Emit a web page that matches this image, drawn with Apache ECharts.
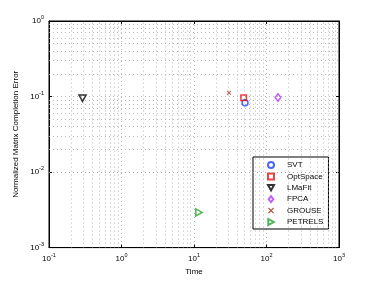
<!DOCTYPE html>
<html><head><meta charset="utf-8">
<script src="https://cdn.jsdelivr.net/npm/echarts@6/dist/echarts.min.js"></script>
<style>html,body{margin:0;padding:0;background:#fff}#c{width:374px;height:281px}</style>
</head><body><div id="c"></div>
<script>
const methods = ['SVT', 'OptSpace', 'LMaFit', 'FPCA', 'GROUSE', 'PETRELS'];
const times = [50.5, 48.4, 0.29, 144, 30.4, 11.7];
const errors = [0.0826, 0.096, 0.095, 0.097, 0.112, 0.00292];
const xDecades = [0.1, 1, 10, 100];
const yDecades = [0.001, 0.01, 0.1];
const minorFactors = [2, 3, 4, 5, 6, 7, 8, 9];

const colors = ['#1f3fff', '#ee1111', '#000000', '#b13cf5', '#a32a1a', '#22a32a'];
const symbols = [
  'circle', 'rect', 'path://M0,0L10,0L5,9Z', 'path://M5,0L10,6.5L5,13L0,6.5Z',
  'path://M0,1.5L1.5,0L5,3.5L8.5,0L10,1.5L6.5,5L10,8.5L8.5,10L5,6.5L1.5,10L0,8.5L3.5,5Z',
  'path://M0,0L9,5L0,10Z'
];
const sizes = [6, 5.5, 7, 7.5, 4.5, 7];
const filled = [false, false, false, false, true, false];

const font = 'Liberation Sans, Arial, sans-serif';
const rich = {
  b: {fontSize: 8, fontFamily: font, color: '#000'},
  s: {fontSize: 5.5, fontFamily: font, color: '#000', verticalAlign: 'top', padding: [0, 0, 7, 0]}
};
function fmt(v) {
  const e = Math.round(Math.log10(v));
  return '{b|10}{s|' + e + '}';
}

const minorX = [], minorY = [];
xDecades.forEach(d => minorFactors.forEach(f => minorX.push({xAxis: d * f})));
yDecades.forEach(d => minorFactors.forEach(f => minorY.push({yAxis: d * f})));

const gridLine = {color: '#a8a8a8', width: 0.8, type: [1, 3]};

const series = methods.map((m, i) => ({
  name: m, type: 'scatter',
  data: [[times[i], errors[i]]],
  symbol: symbols[i], symbolSize: sizes[i], symbolKeepAspect: true,
  itemStyle: filled[i]
    ? {color: colors[i], borderWidth: 0}
    : {color: 'rgba(255,255,255,0)', borderColor: colors[i], borderWidth: 1.5},
  z: 5
}));
series.push({
  type: 'scatter', data: [], silent: true, z: 1,
  markLine: {
    silent: true, symbol: ['none', 'none'], label: {show: false},
    lineStyle: gridLine, animation: false,
    emphasis: {disabled: true},
    data: minorX.concat(minorY)
  }
});

const chart = echarts.init(document.getElementById('c'), null, {renderer: 'canvas'});
chart.setOption({
  animation: false,
  backgroundColor: '#fff',
  grid: {left: 49, right: 35, top: 21, bottom: 32, show: true, borderColor: '#000', borderWidth: 1, backgroundColor: 'transparent'},
  xAxis: [{
    type: 'log', logBase: 10, min: 0.1, max: 1000,
    name: 'Time', nameLocation: 'middle', nameGap: 17,
    nameTextStyle: {fontSize: 8, fontFamily: font, color: '#000'},
    axisLine: {show: true, lineStyle: {color: '#000', width: 1}},
    axisTick: {show: true, inside: true, length: 3, lineStyle: {color: '#000'}},
    axisLabel: {formatter: fmt, rich: rich, margin: 5},
    splitLine: {show: true, lineStyle: gridLine},
    minorTick: {show: false}
  }, {
    type: 'log', logBase: 10, min: 0.1, max: 1000, position: 'top',
    axisLine: {show: true, lineStyle: {color: '#000'}},
    axisTick: {show: true, inside: true, length: 3, lineStyle: {color: '#000'}},
    axisLabel: {show: false}, splitLine: {show: false}
  }],
  yAxis: [{
    type: 'log', logBase: 10, min: 0.001, max: 1,
    name: 'Normalized Matrix Completion Error', nameLocation: 'middle', nameGap: 25,
    nameTextStyle: {fontSize: 8, fontFamily: font, color: '#000'},
    axisLine: {show: true, lineStyle: {color: '#000', width: 1}},
    axisTick: {show: true, inside: true, length: 3, lineStyle: {color: '#000'}},
    axisLabel: {formatter: fmt, rich: rich, margin: 5},
    splitLine: {show: true, lineStyle: gridLine}
  }, {
    type: 'log', logBase: 10, min: 0.001, max: 1, position: 'right',
    axisLine: {show: true, lineStyle: {color: '#000'}},
    axisTick: {show: true, inside: true, length: 3, lineStyle: {color: '#000'}},
    axisLabel: {show: false}, splitLine: {show: false}
  }],
  legend: {
    orient: 'vertical', left: 253, top: 157,
    padding: [4, 5, 3, 14], itemGap: 3.4, itemWidth: 6, itemHeight: 6,
    backgroundColor: '#fff', borderColor: '#000', borderWidth: 1, borderRadius: 0,
    textStyle: {fontSize: 8, fontFamily: font, color: '#000', padding: [0, 0, 0, 8]},
    data: methods
  },
  series: series
});
</script></body></html>
